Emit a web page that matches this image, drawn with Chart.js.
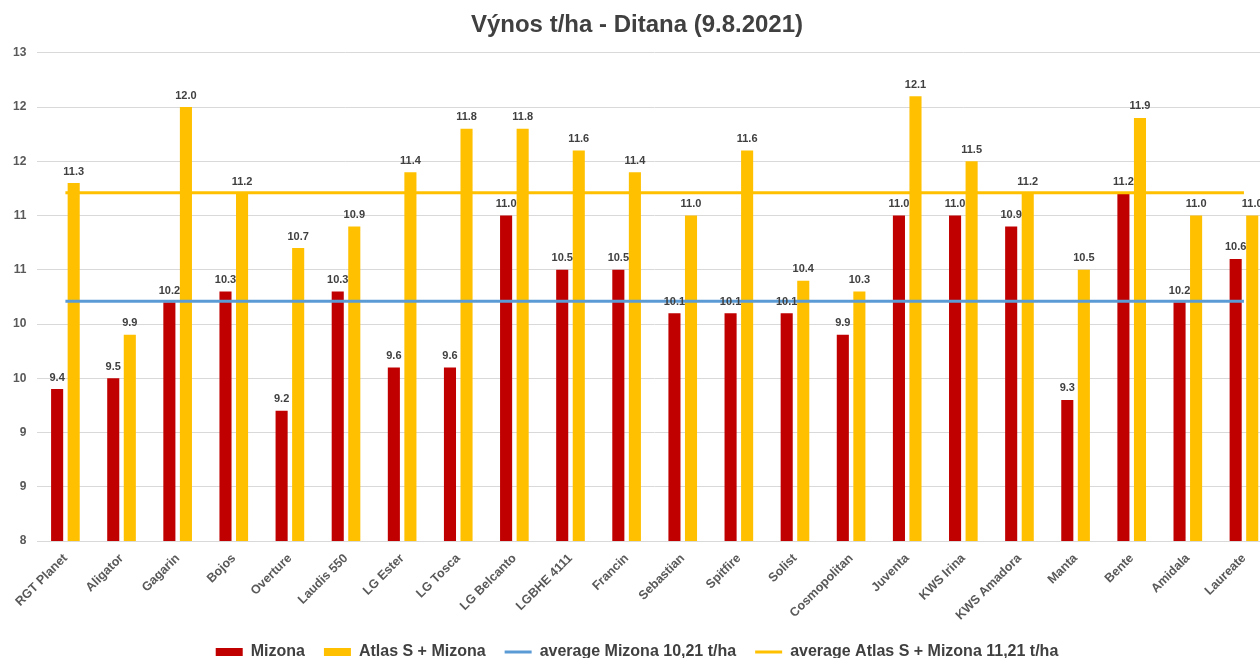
<!DOCTYPE html>
<html>
<head>
<meta charset="utf-8">
<title>Výnos t/ha - Ditana</title>
<script src="https://cdn.jsdelivr.net/npm/chart.js@4.4.1/dist/chart.umd.min.js"></script>
<style>
  html, body { margin: 0; padding: 0; background: #fff; overflow: hidden; }
  #wrap { width: 1272px; height: 658px; }
</style>
</head>
<body>
<div id="wrap"><canvas id="chart" width="1272" height="658"></canvas></div>
<script>
// odrody
const varieties = ['RGT Planet', 'Aligator', 'Gagarin', 'Bojos', 'Overture', 'Laudis 550', 'LG Ester',
  'LG Tosca', 'LG Belcanto', 'LGBHE 4111', 'Francin', 'Sebastian', 'Spitfire', 'Solist',
  'Cosmopolitan', 'Juventa', 'KWS Irina', 'KWS Amadora', 'Manta', 'Bente', 'Amidala', 'Laureate'];

// výnos t/ha
const mizona = [9.4, 9.5, 10.2, 10.3, 9.2, 10.3, 9.6, 9.6, 11.0, 10.5, 10.5, 10.1, 10.1, 10.1,
  9.9, 11.0, 11.0, 10.9, 9.3, 11.2, 10.2, 10.6];
const atlasMizona = [11.3, 9.9, 12.0, 11.2, 10.7, 10.9, 11.4, 11.8, 11.8, 11.6, 11.4, 11.0, 11.6, 10.4,
  10.3, 12.1, 11.5, 11.2, 10.5, 11.9, 11.0, 11.0];

// priemery
const avgMizona = 10.21;
const avgAtlasMizona = 11.21;

// os y
const yMin = 8;
const yMax = 12.5;
const yStep = 0.5;

const fontFamily = '"Liberation Sans", Arial, sans-serif';

const barLabels = {
  id: 'barLabels',
  afterDatasetsDraw(chart) {
    const ctx = chart.ctx;
    ctx.save();
    ctx.font = 'bold 11px ' + fontFamily;
    ctx.fillStyle = '#404040';
    ctx.textAlign = 'center';
    ctx.textBaseline = 'bottom';
    [0, 1].forEach(i => {
      const meta = chart.getDatasetMeta(i);
      const values = chart.data.datasets[i].data;
      meta.data.forEach((bar, j) => {
        ctx.fillText(values[j].toFixed(1), bar.x, bar.y - 6);
      });
    });
    ctx.restore();
  }
};

const first = varieties[0];
const last = varieties[varieties.length - 1];

new Chart(document.getElementById('chart').getContext('2d'), {
  type: 'bar',
  data: {
    labels: varieties,
    datasets: [
      {
        label: 'Mizona',
        data: mizona,
        backgroundColor: '#C00000',
        borderWidth: 0,
        categoryPercentage: 0.59,
        barPercentage: 0.73,
        order: 1
      },
      {
        label: 'Atlas S + Mizona',
        data: atlasMizona,
        backgroundColor: '#FFC000',
        borderWidth: 0,
        categoryPercentage: 0.59,
        barPercentage: 0.73,
        order: 1
      },
      {
        type: 'line',
        label: 'average Mizona 10,21 t/ha',
        data: [{ x: first, y: avgMizona }, { x: last, y: avgMizona }],
        borderColor: '#5B9BD5',
        backgroundColor: '#5B9BD5',
        borderWidth: 3,
        pointRadius: 0,
        order: 0
      },
      {
        type: 'line',
        label: 'average Atlas S + Mizona 11,21 t/ha',
        data: [{ x: first, y: avgAtlasMizona }, { x: last, y: avgAtlasMizona }],
        borderColor: '#FFC000',
        backgroundColor: '#FFC000',
        borderWidth: 3,
        pointRadius: 0,
        order: 0
      }
    ]
  },
  options: {
    responsive: false,
    animation: false,
    layout: { padding: { left: 2, right: 0, top: 0, bottom: -12 } },
    plugins: {
      title: {
        display: true,
        text: 'Výnos t/ha - Ditana (9.8.2021)',
        color: '#404040',
        font: { family: fontFamily, size: 24, weight: 'bold' },
        padding: { top: 11, bottom: 13 }
      },
      legend: {
        position: 'bottom',
        labels: {
          color: '#404040',
          font: { family: fontFamily, size: 16, weight: 'bold' },
          usePointStyle: true,
          pointStyleWidth: 27,
          boxHeight: 8,
          padding: 19,
          sort: (a, b) => a.datasetIndex - b.datasetIndex,
          generateLabels(chart) {
            const items = Chart.defaults.plugins.legend.labels.generateLabels(chart);
            items.forEach(item => {
              const ds = chart.data.datasets[item.datasetIndex];
              item.pointStyle = ds.type === 'line' ? 'line' : 'rect';
              item.lineWidth = ds.type === 'line' ? 3 : 0;
            });
            return items;
          }
        }
      },
      tooltip: { enabled: false }
    },
    scales: {
      x: {
        grid: { display: false },
        border: { color: '#d9d9d9' },
        ticks: {
          color: '#595959',
          font: { family: fontFamily, size: 12.5, weight: 'bold' },
          maxRotation: 45,
          minRotation: 45,
          padding: 2
        }
      },
      y: {
        min: yMin,
        max: yMax,
        grid: { color: '#d9d9d9', drawTicks: false },
        border: { display: false },
        ticks: {
          stepSize: yStep,
          color: '#595959',
          font: { family: fontFamily, size: 12, weight: 'bold' },
          padding: 11,
          callback: value => Math.round(value).toString()
        }
      }
    }
  },
  plugins: [barLabels]
});
</script>
</body>
</html>
